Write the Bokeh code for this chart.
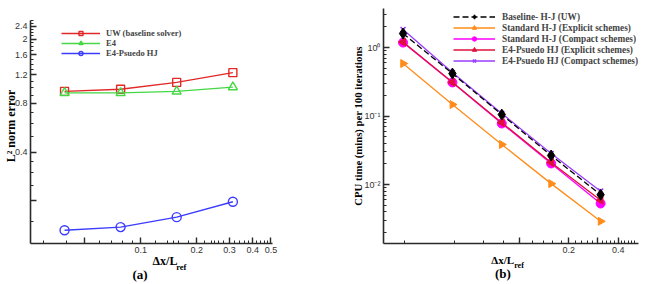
import math
from bokeh.plotting import figure
from bokeh.layouts import row
from bokeh.models import (FixedTicker, CustomJSTickFormatter, Legend, LegendItem, LogAxis)
from bokeh.embed import file_html
from bokeh.resources import INLINE

# ---------------- data: panel (a) ----------------
a_dx = [0.039, 0.078, 0.156, 0.3125]
a_uw = [0.95, 0.98, 1.08, 1.24]
a_e4 = [0.93, 0.93, 0.95, 1.01]
a_e4hj = [0.132, 0.138, 0.159, 0.198]
a_names = ["UW (baseline solver)", "E4", "E4-Psuedo HJ"]

a_xmajor = [0.05, 0.1, 0.2, 0.3, 0.4, 0.5]
a_xminor = [0.03, 0.04, 0.06, 0.07, 0.08, 0.09, 0.12, 0.14, 0.15, 0.16, 0.18,
            0.22, 0.24, 0.25, 0.26, 0.28, 0.32, 0.34, 0.36, 0.38, 0.42, 0.44, 0.46, 0.48]
a_xlabel_vals = [0.1, 0.2, 0.3, 0.4, 0.5]
a_xlabel_txt = ["0.1", "0.2", "0.3", "0.4", "0.5"]
a_ymajor = [0.2, 0.4, 0.8, 1.2, 1.6, 2.0, 2.4]
a_yminor = [0.15, 0.25, 0.3, 0.35, 0.5, 0.6, 0.7, 0.9, 1.0, 1.1, 1.3, 1.4, 1.5,
            1.7, 1.8, 1.9, 2.1, 2.2, 2.3, 2.5, 2.6]
a_ylabel_vals = [0.4, 0.8, 1.2, 1.6, 2.0, 2.4]
a_ylabel_txt = ["0.4", "0.8", "1.2", "1.6", "2", "2.4"]

# ---------------- data: panel (b) ----------------
b_dx = [0.0195, 0.039, 0.078, 0.156, 0.3125]
b_base = [1.60, 0.417, 0.105, 0.0265, 0.0071]
b_std_exp = [0.584, 0.147, 0.0384, 0.0103, 0.0029]
b_std_cmp = [1.18, 0.309, 0.0778, 0.0203, 0.00528]
b_e4_exp = [1.20, 0.31, 0.080, 0.021, 0.0059]
b_e4_cmp = [1.83, 0.43, 0.109, 0.0284, 0.0080]
b_names = ["Baseline- H-J (UW)", "Standard H-J (Explicit schemes)",
           "Standard H-J (Compact schemes)", "E4-Psuedo HJ (Explicit schemes)",
           "E4-Psuedo HJ (Compact schemes)"]

b_xmajor = [0.1, 0.2, 0.3, 0.4]
b_xminor = [0.02, 0.04, 0.06, 0.08, 0.12, 0.14, 0.16, 0.18, 0.22, 0.24, 0.26, 0.28,
            0.32, 0.34, 0.36, 0.38, 0.42, 0.44, 0.46, 0.48, 0.5]
b_xlabel_vals = [0.2, 0.4]
b_xlabel_txt = ["0.2", "0.4"]
b_ymajor = [0.01, 0.1, 1.0]
b_yminor = [m * 10.0 ** e for e in (-3, -2, -1, 0) for m in range(2, 10)]
b_ylabel_vals = [0.01, 0.1, 1.0]
b_ylabel_txt = ["10\u207b\u00b2", "10\u207b\u00b9", "10\u2070"]

SERIF = "Liberation Serif"
SANS = "Liberation Sans"
AX = "#2a2a2a"
NBSP = "\u00a0"


def fmt(vals, txts):
    return CustomJSTickFormatter(args=dict(vals=vals, txts=txts), code="""
        for (let i = 0; i < vals.length; i++) {
            if (Math.abs(tick / vals[i] - 1) < 1e-6) { return txts[i]; }
        }
        return '';
    """)


def style_axes(p, xmaj, xmin, xlv, xlt, ymaj, ymin, ylv, ylt):
    p.xgrid.visible = False
    p.ygrid.visible = False
    p.outline_line_color = None
    for ax in (p.xaxis[0], p.yaxis[0]):
        ax.axis_line_color = AX
        ax.axis_line_width = 1.6
        ax.major_tick_line_color = AX
        ax.minor_tick_line_color = AX
        ax.major_tick_line_width = 1.4
        ax.minor_tick_line_width = 1
        ax.major_tick_in = 6
        ax.major_tick_out = 0
        ax.minor_tick_in = 3
        ax.minor_tick_out = 0
        ax.major_label_text_font = SANS
        ax.major_label_text_font_size = "9px"
        ax.major_label_text_color = "#333333"
        ax.major_label_standoff = 3
        ax.axis_label_text_font = SERIF
        ax.axis_label_text_font_style = "bold"
        ax.axis_label_text_color = "black"
    p.xaxis[0].ticker = FixedTicker(ticks=xmaj, minor_ticks=xmin)
    p.xaxis[0].formatter = fmt(xlv, xlt)
    p.yaxis[0].ticker = FixedTicker(ticks=ymaj, minor_ticks=ymin)
    p.yaxis[0].formatter = fmt(ylv, ylt)


def shifted(text, shift_px, font_px):
    """Pad a centred label with no-break spaces so that its visible part is
    moved shift_px to the right (negative: to the left)."""
    n = int(round(abs(2 * shift_px) / (0.25 * font_px)))
    return NBSP * n + text if shift_px > 0 else text + NBSP * n


def label_axis(p, text, size, standoff):
    """Extra tick-less axis below the plot, used only to carry a text label."""
    ax = LogAxis(ticker=FixedTicker(ticks=[], minor_ticks=[]),
                 axis_line_color=None, major_tick_out=0, major_tick_in=0,
                 minor_tick_out=0, minor_tick_in=0, axis_label=text,
                 axis_label_text_font=SERIF, axis_label_text_font_style="bold",
                 axis_label_text_font_size=size, axis_label_text_color="black",
                 axis_label_standoff=standoff, major_label_text_font_size="0px")
    p.add_layout(ax, "below")


# ---------------- panel (a) ----------------
# frames of both panels share top/bottom (row alignment); the left y axis line
# is limited with bounds so that it starts at 2.6 like the original
p1 = figure(width=331, height=284, x_axis_type="log", y_axis_type="log",
            x_range=(0.0256, 0.51), y_range=(0.1093, 3.087), title=None,
            min_border_left=28, min_border_right=59, min_border_top=8,
            min_border_bottom=41, output_backend="svg", toolbar_location=None)
style_axes(p1, a_xmajor, a_xminor, a_xlabel_vals, a_xlabel_txt,
           a_ymajor, a_yminor, a_ylabel_vals, a_ylabel_txt)
p1.yaxis[0].bounds = (0.1093, 2.6)
p1.yaxis[0].axis_label = "L\u00b2 norm error"
p1.yaxis[0].axis_label_text_font_size = "12px"
p1.yaxis[0].axis_label_text_line_height = 0.5
p1.yaxis[0].axis_label_standoff = -6

items_a = []
for ys, col, mk, sz, nm in [(a_uw, "#e02828", "square", 8, a_names[0]),
                            (a_e4, "#44d844", "triangle", 9, a_names[1]),
                            (a_e4hj, "#3c3cff", "circle", 9, a_names[2])]:
    l = p1.line(a_dx, ys, line_color=col, line_width=1.4)
    s = p1.scatter(a_dx, ys, marker=mk, size=sz, line_color=col, line_width=1.4,
                   fill_color=None)
    items_a.append(LegendItem(label=nm, renderers=[l, s]))

leg_a = Legend(items=items_a, location=(31, 185), glyph_width=39, glyph_height=10,
               label_height=10, label_standoff=6, spacing=0, padding=0, margin=0,
               border_line_color=None, background_fill_alpha=0,
               label_text_font=SERIF, label_text_font_style="bold",
               label_text_font_size="8.5px", label_text_baseline="middle")
p1.add_layout(leg_a, "center")

label_axis(p1, shifted("\u0394x/L", 14, 12), "12px", -2)
label_axis(p1, shifted("ref", 30, 8.5), "8.5px", -9)
label_axis(p1, shifted("(a)", -12, 13), "13px", -8)

# ---------------- panel (b) ----------------
p2 = figure(width=324, height=284, x_axis_type="log", y_axis_type="log",
            x_range=(0.01482, 0.532), y_range=(0.001377, 3.71), title=None,
            min_border_left=52, min_border_right=17, min_border_top=8,
            min_border_bottom=41, output_backend="svg", toolbar_location=None)
style_axes(p2, b_xmajor, b_xminor, b_xlabel_vals, b_xlabel_txt,
           b_ymajor, b_yminor, b_ylabel_vals, b_ylabel_txt)
p2.yaxis[0].axis_label = "CPU time (mins) per 100 iterations"
p2.yaxis[0].axis_label_text_font_size = "10.7px"
p2.yaxis[0].axis_label_standoff = -3

specs_b = {
    "std_cmp": (b_std_cmp, "#ff00ff", "circle", 9, 0.0, "solid", "#ff00ff", b_names[2]),
    "e4_exp": (b_e4_exp, "#e0103c", "triangle", 8, math.pi / 2, "solid", "#e0103c", b_names[3]),
    "std_exp": (b_std_exp, "#ff8c1a", "triangle", 8, -math.pi / 2, "solid", "#ff8c1a", b_names[1]),
    "e4_cmp": (b_e4_cmp, "#9a3cff", "x", 7, 0.0, "solid", None, b_names[4]),
    "base": (b_base, "#000000", "diamond", 11, 0.0, "6 3", "#000000", b_names[0]),
}
rends = {}
for key in ["std_cmp", "e4_exp", "std_exp", "e4_cmp", "base"]:
    ys, col, mk, sz, ang, dash, fill, nm = specs_b[key]
    l = p2.line(b_dx, ys, line_color=col, line_width=1.3, line_dash=dash)
    s = p2.scatter(b_dx, ys, marker=mk, size=sz, angle=ang, line_color=col,
                   line_width=1.6 if mk == "x" else 1, fill_color=fill)
    rends[key] = (nm, [l, s])

items_b = [LegendItem(label=rends[k][0], renderers=rends[k][1])
           for k in ["base", "std_exp", "std_cmp", "e4_exp", "e4_cmp"]]
leg_b = Legend(items=items_b, location=(70, 177), glyph_width=42, glyph_height=11,
               label_height=11, label_standoff=7, spacing=0, padding=0, margin=0,
               border_line_color=None, background_fill_alpha=0,
               label_text_font=SERIF, label_text_font_style="bold",
               label_text_font_size="9.3px", label_text_baseline="middle")
p2.add_layout(leg_b, "center")

label_axis(p2, shifted("\u0394x/L", -8.5, 11), "11px", -2)
label_axis(p2, shifted("ref", 8, 8), "8px", -8)
label_axis(p2, shifted("(b)", -7.5, 13), "13px", -7)

layout = row(p1, p2)
open("out.html", "w").write(file_html(layout, INLINE))
